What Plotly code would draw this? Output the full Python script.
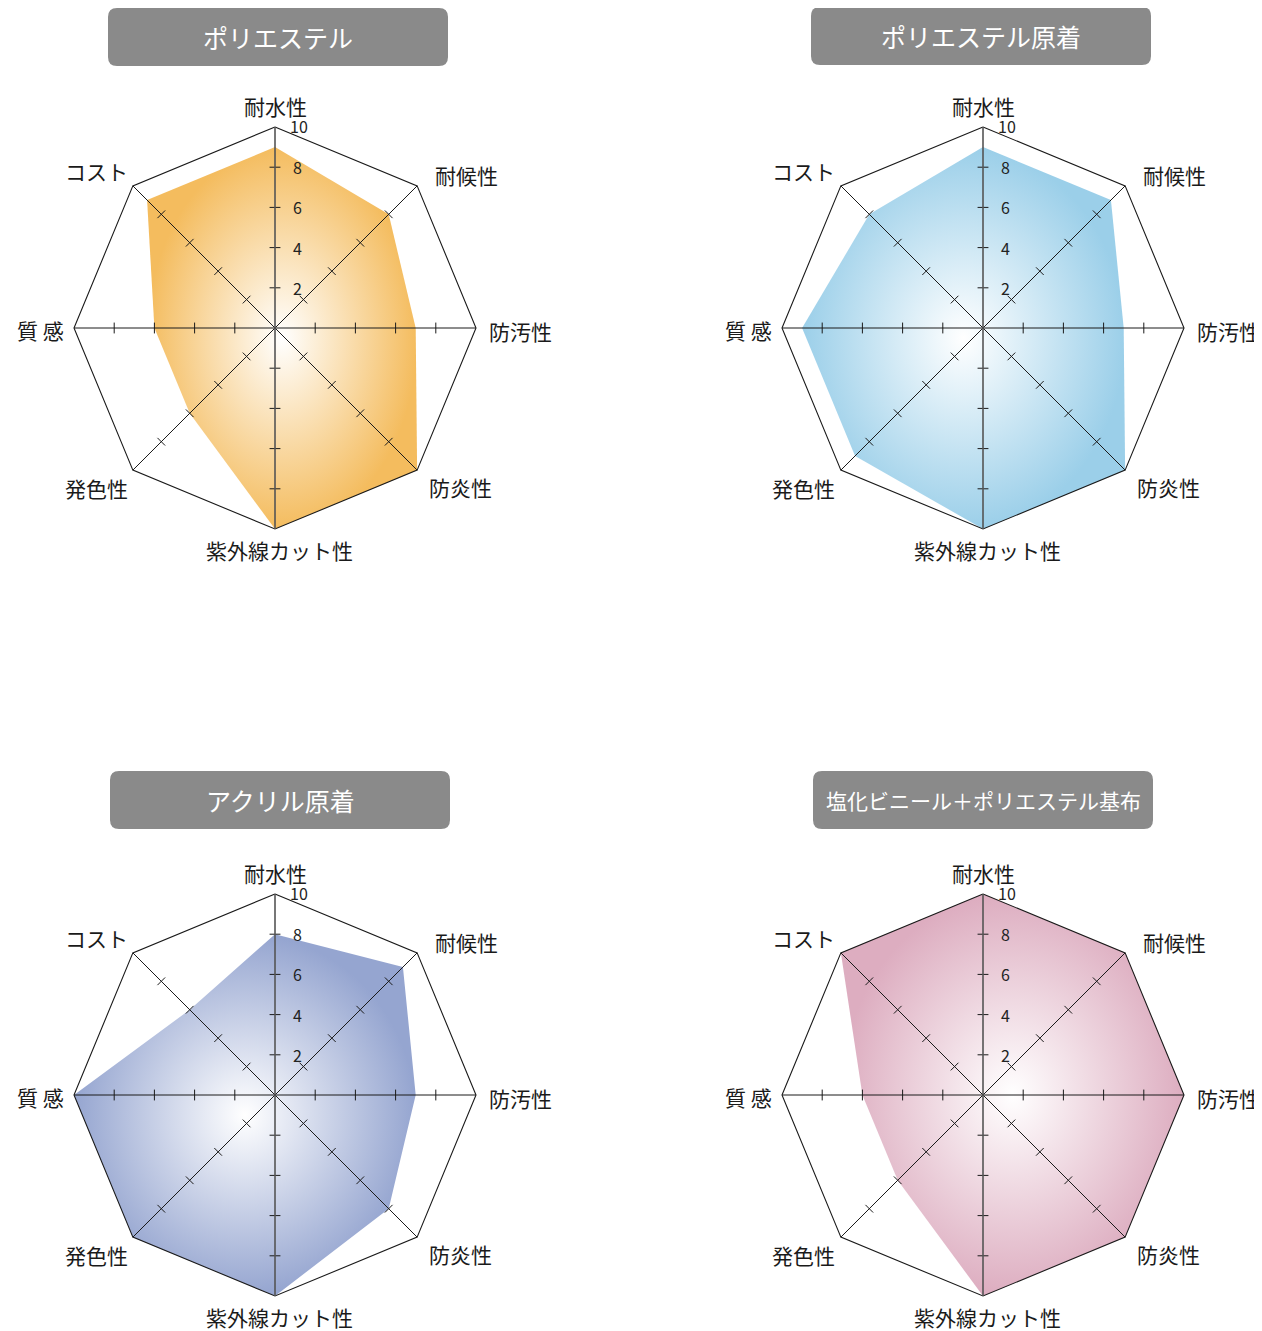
"""Four radar charts comparing awning fabric materials."""
import numpy as np
import plotly.graph_objects as go

# ── Data ──────────────────────────────────────────────────────────────────
axis_labels = ["耐水性", "耐候性", "防汚性", "防炎性", "紫外線カット性", "発色性", "質 感", "コスト"]
chart_titles = ["ポリエステル", "ポリエステル原着", "アクリル原着", "塩化ビニール＋ポリエステル基布"]

polyester = [9, 8, 7, 10, 10, 6, 6, 9]
polyester_dyed = [9, 9, 7, 10, 10, 9, 9, 8]
acrylic_dyed = [8, 9, 7, 8, 10, 10, 10, 6]
pvc_polyester = [10, 10, 10, 10, 10, 6, 6, 10]

tick_values = [2, 4, 6, 8, 10]
max_value = 10

series = [polyester, polyester_dyed, acrylic_dyed, pvc_polyester]
fill_colors = ["#F4BC5E", "#9BCFE9", "#95A5D0", "#DDADC0"]

# ── Layout (pixels) ───────────────────────────────────────────────────────
W, H = 1262, 1331
OFF = 8                      # page body margin compensation
CENTERS = [(275, 328), (983, 328), (275, 1095), (983, 1095)]
SCALE = 20.1                 # px per unit
HALF = 11 * SCALE
BOXES = [(108, 8, 448, 66), (811, 7, 1151, 65), (110, 771, 450, 829), (813, 771, 1153, 829)]
TITLE_SIZES = [25, 25, 25, 21]
LABEL_OFFSETS = [(0, -222), (191, -153), (245, 3), (185, 159),
                 (4, 222), (-179, 160), (-235, 2), (-179, -157)]
FONT = "Noto Sans CJK JP"

angles = np.deg2rad(np.arange(8) * 45)


def px(x):
    return (x - OFF) / W


def py(y):
    return 1 - (y - OFF) / H


fig = go.Figure()
annotations = []
shapes = []

for k, (values, color) in enumerate(zip(series, fill_colors)):
    n = '' if k == 0 else str(k + 1)
    xa, ya = 'x' + n, 'y' + n
    cx, cy = CENTERS[k]

    v = np.asarray(values, dtype=float)
    fig.add_trace(go.Scatter(
        x=np.append(v * np.sin(angles), v[0] * np.sin(angles[0])),
        y=np.append(v * np.cos(angles), v[0] * np.cos(angles[0])),
        fill='toself', mode='lines', line=dict(width=0),
        fillgradient=dict(type='radial', colorscale=[[0, 'white'], [1, color]]),
        xaxis=xa, yaxis=ya, hoverinfo='skip', showlegend=False,
    ))

    # octagon frame
    fx = list(max_value * np.sin(angles)) + [0]
    fy = list(max_value * np.cos(angles)) + [max_value]
    fig.add_trace(go.Scatter(x=fx, y=fy, mode='lines',
                             line=dict(color='#1a1a1a', width=1.1),
                             xaxis=xa, yaxis=ya, hoverinfo='skip', showlegend=False))

    # spokes + tick marks
    sx, sy = [], []
    for a in angles[1:4]:
        sx += [max_value * np.sin(a), -max_value * np.sin(a), None]
        sy += [max_value * np.cos(a), -max_value * np.cos(a), None]
    tx, ty = [], []
    h = 0.27
    for a in angles:
        d = np.array([np.sin(a), np.cos(a)])
        p = np.array([np.cos(a), -np.sin(a)])
        for r in tick_values[:-1]:
            c = r * d
            tx += [c[0] + h * p[0], c[0] - h * p[0], None]
            ty += [c[1] + h * p[1], c[1] - h * p[1], None]
    fig.add_trace(go.Scatter(x=sx + tx, y=sy + ty, mode='lines',
                             line=dict(color='#1a1a1a', width=1),
                             xaxis=xa, yaxis=ya, hoverinfo='skip', showlegend=False))
    fig.add_trace(go.Scatter(x=[0, 0], y=[-max_value, max_value], mode='lines',
                             line=dict(color='#555555', width=1.6),
                             xaxis=xa, yaxis=ya, hoverinfo='skip', showlegend=False))

    # tick labels on the vertical axis
    for r in tick_values:
        annotations.append(dict(
            x=0.65 if r == max_value else 0.8, y=r + (0.05 if r == max_value else 0),
            xref=xa, yref=ya, text=str(r), showarrow=False,
            xanchor='left', yanchor='middle',
            font=dict(family=FONT, size=16, color='#222222'),
        ))

    # category labels
    for lab, (dx, dy) in zip(axis_labels, LABEL_OFFSETS):
        annotations.append(dict(
            x=px(cx + dx), y=py(cy + dy), xref='paper', yref='paper',
            text=lab, showarrow=False, xanchor='center', yanchor='middle',
            font=dict(family=FONT, size=21, color='#1a1a1a'),
        ))

    # title box with rounded corners
    x0, y0, x1, y1 = BOXES[k]
    rr = 9
    path = (f"M {px(x0 + rr)},{py(y0)} L {px(x1 - rr)},{py(y0)} "
            f"Q {px(x1)},{py(y0)} {px(x1)},{py(y0 + rr)} L {px(x1)},{py(y1 - rr)} "
            f"Q {px(x1)},{py(y1)} {px(x1 - rr)},{py(y1)} L {px(x0 + rr)},{py(y1)} "
            f"Q {px(x0)},{py(y1)} {px(x0)},{py(y1 - rr)} L {px(x0)},{py(y0 + rr)} "
            f"Q {px(x0)},{py(y0)} {px(x0 + rr)},{py(y0)} Z")
    shapes.append(dict(type='path', path=path, xref='paper', yref='paper',
                       fillcolor='#8A8A8A', line=dict(width=0), layer='below'))
    annotations.append(dict(
        x=px((x0 + x1) / 2), y=py((y0 + y1) / 2), xref='paper', yref='paper',
        text=chart_titles[k], showarrow=False, xanchor='center', yanchor='middle',
        font=dict(family=FONT, size=TITLE_SIZES[k], color='white'),
    ))

    axis_style = dict(range=[-11, 11], visible=False, fixedrange=True)
    fig.update_layout(**{
        'xaxis' + n: dict(axis_style, domain=[px(cx - HALF), px(cx + HALF)], anchor=ya),
        'yaxis' + n: dict(axis_style, domain=[py(cy + HALF), py(cy - HALF)], anchor=xa),
    })

fig.update_layout(
    width=W, height=H,
    margin=dict(l=0, r=0, t=0, b=0),
    plot_bgcolor='white',
    paper_bgcolor='white',
    annotations=annotations,
    shapes=shapes,
    font=dict(family=FONT),
)

fig.write_html("out.html")
